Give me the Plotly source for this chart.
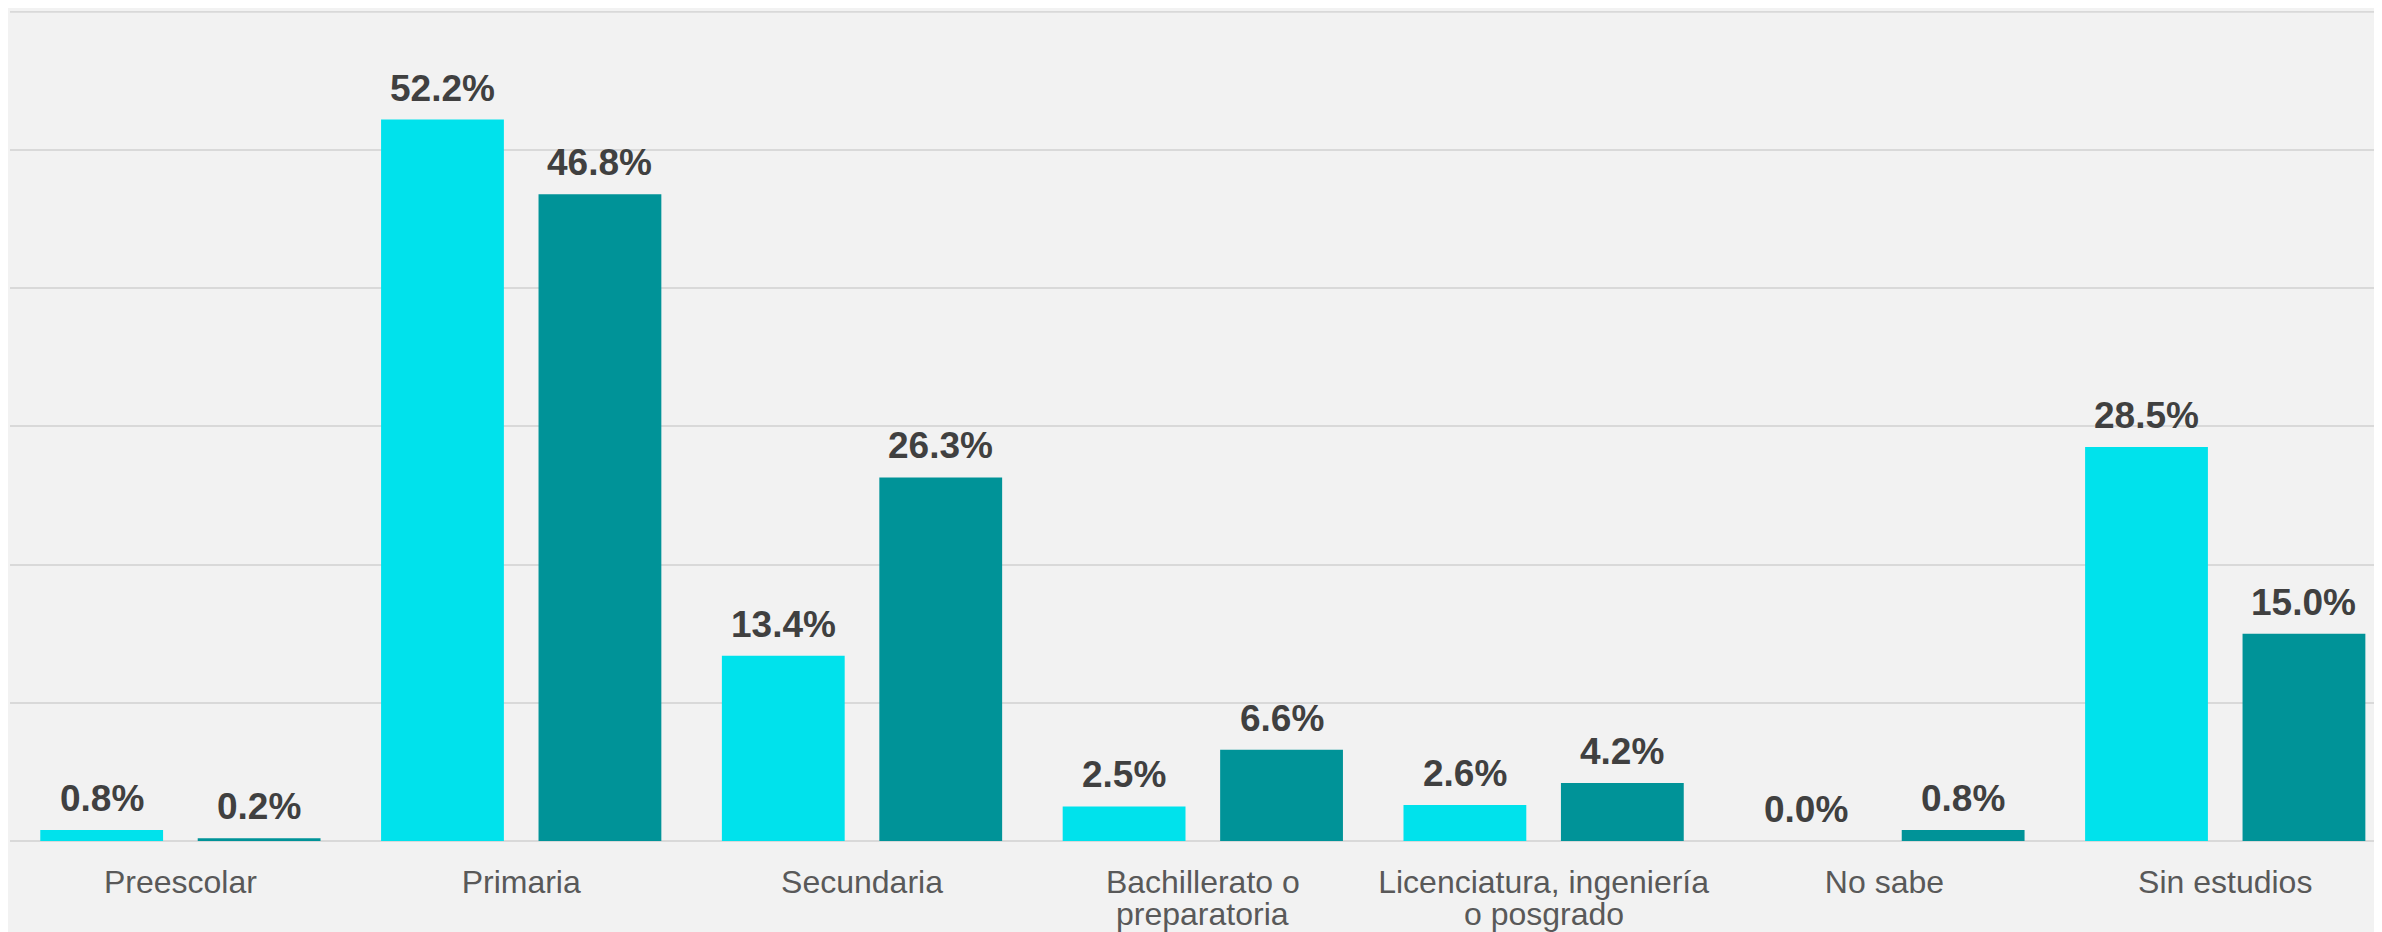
import plotly.graph_objects as go

categories = ["Preescolar", "Primaria", "Secundaria", "Bachillerato o<br>preparatoria",
              "Licenciatura, ingeniería<br>o posgrado", "No sabe", "Sin estudios"]
serie_a = [0.8, 52.2, 13.4, 2.5, 2.6, 0.0, 28.5]
serie_b = [0.2, 46.8, 26.3, 6.6, 4.2, 0.8, 15.0]

color_a = "#00E2EC"
color_b = "#009398"
label_color = "#404040"
tick_color = "#595959"
grid_color = "#D9D9D9"
font_family = "Liberation Sans, Arial, sans-serif"

W, H = 2374, 924
ML, MR, MT, MB = 2, 0, 3, 91
X_RANGE = [-0.5, 6.46]
BARGAP, BARGROUPGAP = 0.076, 0.22

fig = go.Figure()
for vals, col, name in [(serie_a, color_a, "A"), (serie_b, color_b, "B")]:
    fig.add_trace(go.Bar(
        x=categories, y=vals, name=name, marker=dict(color=col, line=dict(width=0)),
        hoverinfo="x+y",
    ))

# value labels above each bar (offset to each bar's slot in the group)
px_per_unit = (W - ML - MR) / (X_RANGE[1] - X_RANGE[0])
slot = (1 - BARGAP) / 2
for k, vals in enumerate([serie_a, serie_b]):
    shift = (k - 0.5) * slot * px_per_unit
    for cat, v in zip(categories, vals):
        fig.add_annotation(
            x=cat, y=v, xref="x", yref="y", text=f"{v:.1f}%", showarrow=False,
            xanchor="center", yanchor="bottom", xshift=shift, yshift=9,
            font=dict(family=font_family, size=37, color=label_color, weight="bold"),
        )

# category labels: first line as tick label, second line (tighter spacing) as annotation
first_lines = [c.split("<br>")[0] for c in categories]
for cat in categories:
    parts = cat.split("<br>")
    if len(parts) > 1:
        fig.add_annotation(
            x=cat, y=0, xref="x", yref="y", text=parts[1], showarrow=False,
            xanchor="center", yanchor="middle", yshift=-73,
            font=dict(family=font_family, size=32, color=tick_color),
        )

# top gridline (at range edge)
fig.add_shape(type="line", xref="paper", yref="y", x0=0, x1=1, y0=60, y1=60,
              line=dict(color=grid_color, width=2), layer="below")

fig.update_layout(
    barmode="group", bargap=BARGAP, bargroupgap=BARGROUPGAP,
    width=W, height=H,
    paper_bgcolor="#F2F2F2", plot_bgcolor="#F2F2F2",
    margin=dict(l=ML, r=MR, t=MT, b=MB, autoexpand=False),
    showlegend=False,
    font=dict(family=font_family),
)
fig.update_xaxes(
    range=X_RANGE, showgrid=False, showline=False, zeroline=False,
    tickmode="array", tickvals=categories, ticktext=first_lines,
    ticks="", ticklabelstandoff=19, automargin=False,
    tickfont=dict(family=font_family, size=32, color=tick_color),
)
fig.update_yaxes(
    range=[0, 60.05], dtick=10, showgrid=True, gridcolor=grid_color, gridwidth=2,
    zeroline=True, zerolinecolor=grid_color, zerolinewidth=2,
    showticklabels=False, showline=False, automargin=False,
)
fig.write_html("out.html")
